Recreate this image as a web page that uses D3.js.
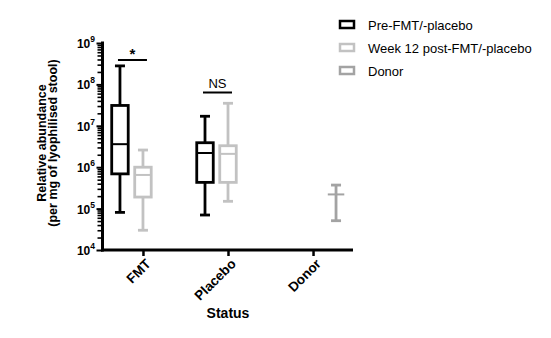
<!DOCTYPE html>
<html><head><meta charset="utf-8">
<script src="https://cdn.jsdelivr.net/npm/d3@7"></script>
<style>body{margin:0;background:#fff}svg{display:block}text{font-family:"Liberation Sans",Arial,sans-serif}</style>
</head><body>
<svg id="c" width="551" height="338"></svg>
<script>
const categories = ["FMT", "Placebo", "Donor"];
const seriesNames = ["Pre-FMT/-placebo", "Week 12 post-FMT/-placebo", "Donor"];
const seriesColors = ["#000000", "#c2c2c2", "#a3a3a3"];
// box stats: [category, series, min, q1, median, q3, max]
const boxFMTPre     = ["FMT", 0, 8.1e4, 6.9e5, 3.6e6, 3.1e7, 2.8e8];
const boxFMTPost    = ["FMT", 1, 3.0e4, 1.9e5, 6.5e5, 1.0e6, 2.6e6];
const boxPlaceboPre = ["Placebo", 0, 7.0e4, 4.3e5, 2.2e6, 3.9e6, 1.7e7];
const boxPlaceboPost= ["Placebo", 1, 1.5e5, 4.3e5, 2.1e6, 3.3e6, 3.5e7];
const boxDonor      = ["Donor", 2, 5.1e4, 2.2e5, 2.2e5, 2.2e5, 3.7e5];
const yTickPowers = [4, 5, 6, 7, 8, 9];
const sigLabels = [["FMT", "*"], ["Placebo", "NS"]];

const boxes = [boxFMTPre, boxFMTPost, boxPlaceboPre, boxPlaceboPost, boxDonor];
const svg = d3.select("#c");

const x0 = d3.scalePoint().domain(categories).range([103, 353]).padding(0.47);
const x1 = d3.scalePoint().domain([0, 1, 2]).range([-23, 23]);
const y = d3.scaleLog().domain([1e4, 1e9]).range([250, 43]);

// y axis ticks
const allTicks = [];
yTickPowers.forEach(p => {
  allTicks.push(Math.pow(10, p));
  if (p < 9) for (let m = 2; m <= 9; m++) allTicks.push(m * Math.pow(10, p));
});
const yAx = svg.append("g").attr("transform", "translate(102.5,0)")
  .call(d3.axisLeft(y).tickValues(allTicks).tickFormat("").tickSize(5).tickSizeOuter(0));
yAx.select(".domain").attr("stroke", "#000").attr("stroke-width", 3).attr("d", "M0,41.5V251.5");
yAx.selectAll(".tick line").attr("stroke", "#000").attr("stroke-width", 1.6);
yAx.selectAll(".tick").filter(d => Math.abs(Math.log10(d) - Math.round(Math.log10(d))) < 1e-9)
  .select("line").attr("x2", -6).attr("stroke-width", 2);

yTickPowers.forEach(p => {
  const t = svg.append("text").attr("x", 95).attr("y", y(Math.pow(10, p)) + 5)
    .attr("text-anchor", "end").attr("font-weight", "bold").attr("font-size", 12);
  t.append("tspan").text("10");
  t.append("tspan").attr("font-size", 8.5).attr("dy", -6).text(String(p));
});

// x axis
const xAx = svg.append("g").attr("transform", "translate(0,250)")
  .call(d3.axisBottom(x0).tickSize(6).tickSizeOuter(0).tickFormat(""));
xAx.select(".domain").attr("stroke", "#000").attr("stroke-width", 3).attr("d", "M101,0H353");
xAx.selectAll(".tick line").attr("stroke", "#000").attr("stroke-width", 2.5);
categories.forEach(c => {
  svg.append("text").attr("transform", `translate(${x0(c) + 3},${259}) rotate(-45)`)
    .attr("text-anchor", "end").attr("font-weight", "bold").attr("font-size", 13.5)
    .attr("dy", "0.6em").text(c);
});

svg.append("text").attr("x", 228).attr("y", 318).attr("text-anchor", "middle")
  .attr("font-weight", "bold").attr("font-size", 14).text("Status");

const yt = svg.append("text").attr("transform", "translate(0,143) rotate(-90)")
  .attr("text-anchor", "middle").attr("font-weight", "bold").attr("font-size", 12.5);
yt.append("tspan").attr("x", 0).attr("y", 46).text("Relative abundance");
yt.append("tspan").attr("x", 0).attr("y", 57).text("(per mg of lyophilised stool)");

// boxes
const bw = 16.5, cw = 10;
const g = svg.append("g");
boxes.forEach(b => {
  const [cat, s, mn, q1, md, q3, mx] = b;
  const cx = x0(cat) + x1(s);
  const col = seriesColors[s];
  const gg = g.append("g").attr("stroke", col).attr("stroke-width", 2.8).attr("fill", "none");
  gg.append("line").attr("x1", cx).attr("x2", cx).attr("y1", y(mx)).attr("y2", y(q3));
  gg.append("line").attr("x1", cx).attr("x2", cx).attr("y1", y(q1)).attr("y2", y(mn));
  gg.append("line").attr("x1", cx - cw / 2).attr("x2", cx + cw / 2).attr("y1", y(mx)).attr("y2", y(mx));
  gg.append("line").attr("x1", cx - cw / 2).attr("x2", cx + cw / 2).attr("y1", y(mn)).attr("y2", y(mn));
  if (q3 !== q1) {
    gg.append("rect").attr("x", cx - bw / 2).attr("y", y(q3)).attr("width", bw).attr("height", y(q1) - y(q3));
  }
  gg.append("line").attr("x1", cx - bw / 2).attr("x2", cx + bw / 2).attr("y1", y(md)).attr("y2", y(md)).attr("stroke-width", 2);
});

// significance
sigLabels.forEach(([cat, lab], i) => {
  const xa = x0(cat) + x1(0) - 2, xb = x0(cat) + x1(1) + 4;
  const yy = i === 0 ? 60 : 92.5;
  svg.append("line").attr("x1", xa).attr("x2", xb).attr("y1", yy).attr("y2", yy)
    .attr("stroke", "#000").attr("stroke-width", 2);
  svg.append("text").attr("x", (xa + xb) / 2).attr("y", i === 0 ? yy - 1 : yy - 5)
    .attr("text-anchor", "middle").attr("font-size", i === 0 ? 15 : 13)
    .attr("font-weight", i === 0 ? "bold" : "normal").text(lab);
});

// legend
const lg = svg.append("g");
seriesNames.forEach((n, i) => {
  const yy = 24.5 + i * 23;
  lg.append("rect").attr("x", 340).attr("y", yy - 3.5).attr("width", 14).attr("height", 7)
    .attr("fill", "none").attr("stroke", seriesColors[i]).attr("stroke-width", 2.5);
  lg.append("text").attr("x", 368).attr("y", yy + 5.5).attr("font-size", 13).text(n);
});
</script>
</body></html>
